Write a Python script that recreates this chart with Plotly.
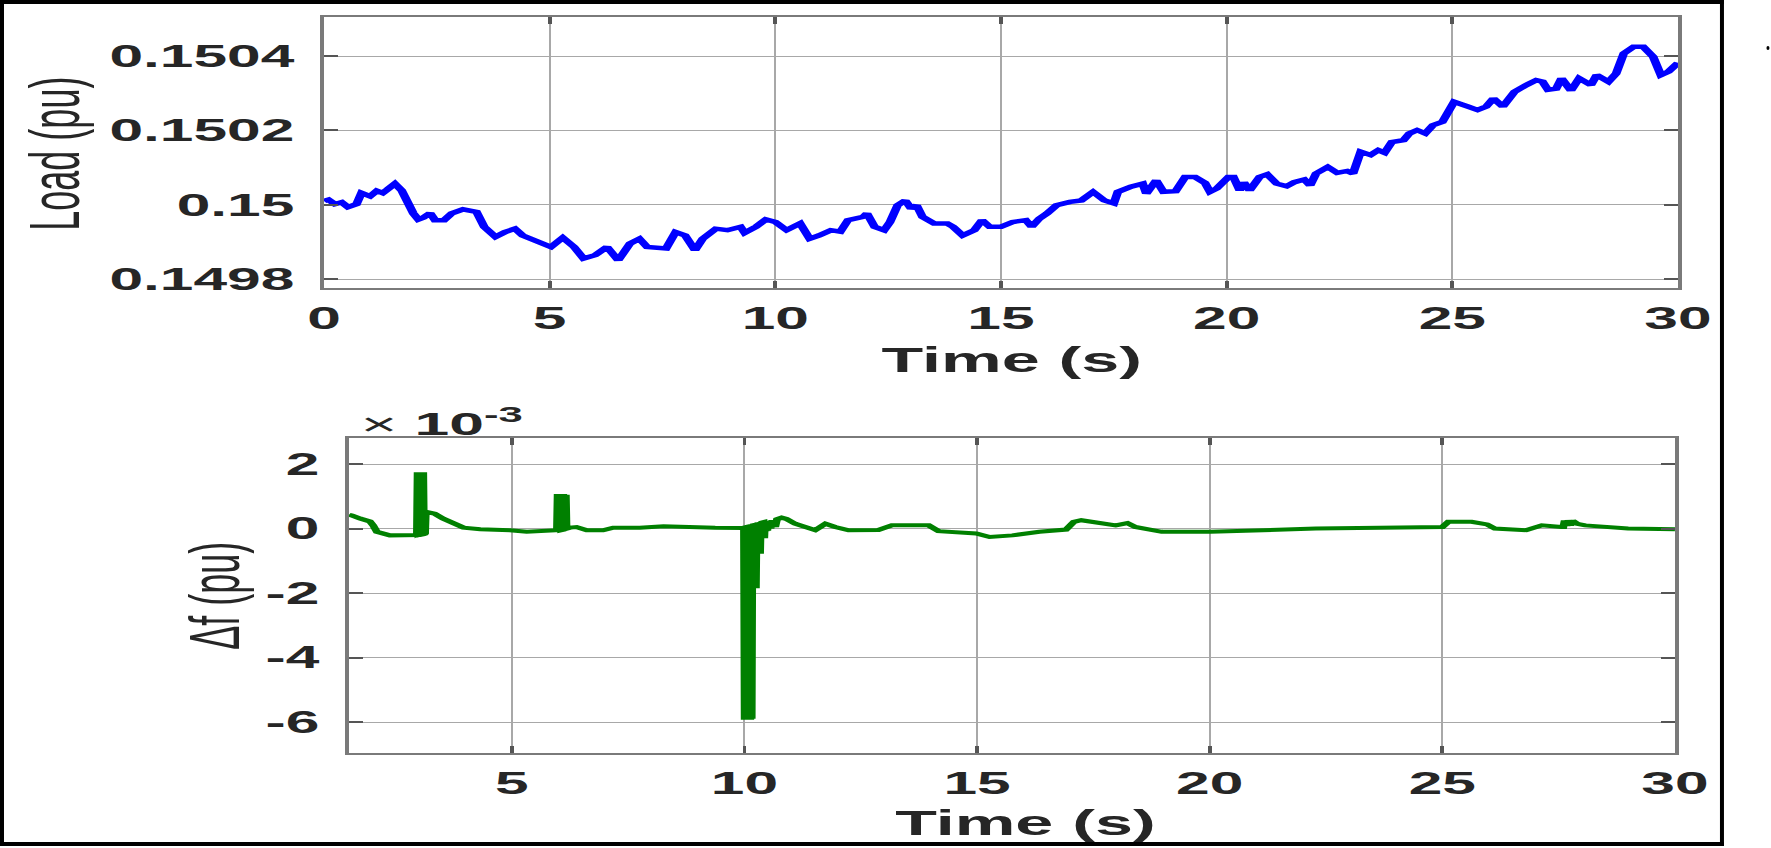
import plotly.graph_objects as go

# ---- upper panel: load (pu) against time (s) ----
load_time = [0.00, 0.10, 0.24, 0.39, 0.53, 0.72, 0.83, 1.02, 1.17, 1.30, 1.39, 1.57, 1.72, 1.83,
             1.98, 2.09, 2.20, 2.35, 2.46, 2.66, 2.83, 3.08, 3.38, 3.55, 3.80, 4.01, 4.23, 4.40,
             4.69, 5.03, 5.29, 5.54, 5.75, 6.01, 6.27, 6.52, 6.78, 6.99, 7.16, 7.58, 7.79, 8.00,
             8.22, 8.39, 8.68, 8.94, 9.23, 9.32, 9.57, 9.79, 10.00, 10.25, 10.55, 10.76, 10.97,
             11.23, 11.44, 11.61, 11.95, 12.03, 12.20, 12.41, 12.54, 12.71, 12.88, 13.01, 13.13,
             13.26, 13.52, 13.81, 13.94, 14.15, 14.41, 14.58, 14.75, 15.00, 15.26, 15.55, 15.68,
             15.85, 16.02, 16.23, 16.53, 16.78, 17.04, 17.29, 17.50, 17.59, 17.88, 18.14, 18.22,
             18.44, 18.60, 18.87, 19.08, 19.30, 19.52, 19.63, 19.78, 20.04, 20.15, 20.29, 20.38,
             20.51, 20.73, 20.90, 21.11, 21.33, 21.50, 21.72, 21.85, 21.98, 22.24, 22.45, 22.67,
             22.80, 22.97, 23.19, 23.36, 23.50, 23.66, 23.92, 24.05, 24.22, 24.40, 24.57, 24.78,
             25.04, 25.35, 25.56, 25.75, 25.91, 26.12, 26.38, 26.64, 26.86, 27.00, 27.12, 27.30,
             27.42, 27.63, 27.81, 28.07, 28.20, 28.46, 28.63, 28.80, 29.02, 29.23, 29.45, 29.62,
             29.79, 30.00]
load_pu = [0.150010, 0.150014, 0.150002, 0.150007, 0.149994, 0.150002, 0.150032, 0.150023,
           0.150038, 0.150032, 0.150040, 0.150057, 0.150039, 0.150012, 0.149977, 0.149961,
           0.149966, 0.149978, 0.149959, 0.149959, 0.149977, 0.149988, 0.149981, 0.149941,
           0.149914, 0.149927, 0.149936, 0.149918, 0.149905, 0.149887, 0.149912, 0.149887,
           0.149856, 0.149865, 0.149887, 0.149851, 0.149896, 0.149909, 0.149887, 0.149883,
           0.149927, 0.149918, 0.149878, 0.149909, 0.149936, 0.149932, 0.149941, 0.149925,
           0.149941, 0.149961, 0.149954, 0.149932, 0.149950, 0.149909, 0.149918, 0.149932,
           0.149928, 0.149959, 0.149968, 0.149977, 0.149941, 0.149932, 0.149954, 0.149999,
           0.150012, 0.149990, 0.149999, 0.149968, 0.149950, 0.149950, 0.149941, 0.149918,
           0.149932, 0.149959, 0.149941, 0.149941, 0.149954, 0.149959, 0.149941, 0.149963,
           0.149977, 0.149999, 0.150008, 0.150012, 0.150035, 0.150012, 0.150004, 0.150035,
           0.150049, 0.150057, 0.150030, 0.150066, 0.150035, 0.150037, 0.150075, 0.150075,
           0.150059, 0.150035, 0.150044, 0.150075, 0.150075, 0.150039, 0.150061, 0.150039,
           0.150075, 0.150082, 0.150057, 0.150050, 0.150061, 0.150068, 0.150052, 0.150084,
           0.150102, 0.150086, 0.150091, 0.150084, 0.150143, 0.150134, 0.150147, 0.150140,
           0.150169, 0.150174, 0.150192, 0.150201, 0.150192, 0.150214, 0.150223, 0.150277,
           0.150264, 0.150255, 0.150264, 0.150286, 0.150264, 0.150304, 0.150322, 0.150335,
           0.150331, 0.150309, 0.150312, 0.150340, 0.150307, 0.150340, 0.150322, 0.150349,
           0.150331, 0.150353, 0.150407, 0.150425, 0.150425, 0.150398, 0.150349, 0.150358,
           0.150382]

# ---- lower panel: frequency deviation, in units of 1e-3 pu ----
df_time = [1.50, 1.56, 1.74, 1.95, 2.02, 2.10, 2.38, 2.85,
           2.96, 2.975, 2.99, 3.005, 3.02, 3.035, 3.05, 3.065, 3.08, 3.095, 3.11, 3.125, 3.135,
           3.15, 3.34, 3.52, 3.74, 3.96, 4.32, 4.96, 5.32, 5.89,
           5.97, 5.985, 6.00, 6.015, 6.03, 6.045, 6.06, 6.075, 6.09, 6.105, 6.12, 6.135, 6.15,
           6.16, 6.175, 6.25, 6.39, 6.61, 6.96, 7.18, 7.75, 8.26, 8.66, 9.05, 9.37,
           9.96, 9.975, 9.99, 10.005, 10.02, 10.035, 10.05, 10.065, 10.08, 10.095, 10.11, 10.125,
           10.14, 10.155, 10.17, 10.185, 10.20, 10.215, 10.23, 10.245, 10.26, 10.275, 10.29,
           10.305, 10.32, 10.335, 10.35, 10.365, 10.38, 10.395, 10.41, 10.425, 10.44, 10.455,
           10.47, 10.49, 10.52, 10.56, 10.60, 10.66, 10.70, 10.80, 10.90,
           11.09, 11.52, 11.74, 11.95, 12.24, 12.88, 13.17, 13.96, 14.17, 14.98, 15.27, 15.76,
           16.34, 16.91, 17.08, 17.24, 17.98, 18.23, 18.40, 18.97, 20.02, 22.28, 25.00, 25.13,
           25.63, 25.96, 26.13, 26.80, 27.14, 27.56, 27.60, 27.63, 27.67, 27.71, 27.75, 27.80,
           27.90, 28.07, 28.99, 30.00]
df_milli_pu = [0.43, 0.41, 0.31, 0.22, 0.10, -0.10, -0.21, -0.21,
               -0.20, 1.75, -0.20, 1.75, -0.19, 1.75, -0.19, 1.75, -0.18, 1.75, -0.18, 1.75, -0.15,
               0.52, 0.46, 0.31, 0.15, 0.03, -0.02, -0.05, -0.10, -0.05,
               -0.05, 1.07, -0.05, 1.07, -0.05, 1.07, -0.05, 1.07, -0.04, 1.07, -0.04, 1.07, -0.04,
               1.05, 0.00, 0.03, 0.05, -0.05, -0.05, 0.03, 0.03, 0.07, 0.05, 0.03, 0.03,
               0.02, -5.93, 0.03, -5.93, 0.04, -5.93, 0.05, -5.93, 0.06, -5.93, 0.07, -5.93,
               0.08, -5.90, 0.10, -1.85, 0.11, -1.85, 0.12, -1.85, 0.13, -0.78, 0.15,
               -0.78, 0.16, -0.78, 0.18, -0.30, 0.19, -0.30, 0.20, -0.30, 0.21, -0.08,
               0.22, -0.06, 0.24, 0.00, 0.26, 0.05, 0.29, 0.34, 0.30,
               0.15, -0.05, 0.15, 0.05, -0.05, -0.04, 0.10, 0.10, -0.08, -0.15, -0.26, -0.21,
               -0.10, -0.03, 0.21, 0.26, 0.10, 0.17, 0.05, -0.10, -0.10, 0.00, 0.05, 0.21,
               0.21, 0.13, 0.00, -0.05, 0.10, 0.05, 0.05, 0.25, 0.08, 0.26, 0.10, 0.24,
               0.15, 0.10, 0.00, -0.02]

load_ticks = [0.1498, 0.15, 0.1502, 0.1504]
load_ticktext = ["0.1498", "0.15", "0.1502", "0.1504"]
df_ticks = [-6, -4, -2, 0, 2]
df_ticktext = ["-6", "-4", "-2", "0", "2"]
time_ticks_top = [0, 5, 10, 15, 20, 25, 30]
time_ticks_bottom = [5, 10, 15, 20, 25, 30]

FONT = "Liberation Sans, Arial, sans-serif"
INK = "#262626"
W_FULL, H_FULL = 1771, 848
# the source picture was widened about 2x after export, so draw narrow and stretch
W_PLOT = 908
STRETCH = W_FULL / W_PLOT


def px(x):
    return x / W_FULL


def py(y):
    return 1 - y / H_FULL


def axis_style(**kw):
    style = dict(showline=True, linecolor="#7a7a7a", linewidth=2, mirror="allticks",
                 ticks="inside", ticklen=7, tickwidth=1.5, tickcolor="#555555",
                 showgrid=True, gridcolor="#a8a8a8", gridwidth=1.4, zeroline=False,
                 tickfont=dict(family=FONT, size=31, color=INK, weight="bold"))
    style.update(kw)
    return style


fig = go.Figure()
fig.add_trace(go.Scatter(x=load_time, y=load_pu, mode="lines",
                         line=dict(color="#0000ff", width=4.5), xaxis="x", yaxis="y"))
fig.add_trace(go.Scatter(x=df_time, y=df_milli_pu, mode="lines",
                         line=dict(color="#008000", width=4), xaxis="x2", yaxis="y2"))

fig.update_layout(
    width=W_PLOT, height=H_FULL,
    margin=dict(l=0, r=0, t=0, b=0, autoexpand=False),
    paper_bgcolor="white", plot_bgcolor="white",
    showlegend=False,
    xaxis=axis_style(domain=[px(324), px(1678)], range=[0, 30], tickvals=time_ticks_top,
                     anchor="y", ticklabelstandoff=2),
    yaxis=axis_style(domain=[py(288.3), py(17.3)], range=[0.1497758, 0.1505041],
                     tickvals=load_ticks, ticktext=load_ticktext, anchor="x",
                     ticklabelstandoff=7),
    xaxis2=axis_style(domain=[px(349), px(1675)], range=[1.5, 30], tickvals=time_ticks_bottom,
                      anchor="y2", ticklabelstandoff=2),
    yaxis2=axis_style(domain=[py(753), py(438)], range=[-6.96, 2.81], tickvals=df_ticks,
                      ticktext=df_ticktext, anchor="x2", ticklabelstandoff=7),
)

label_font = dict(family=FONT, size=36, color=INK)
bold_font = dict(family=FONT, size=35, color=INK)
annotations = [
    dict(text="Load (pu)", x=px(55), y=py(153.5), textangle=-90, font=label_font),
    dict(text="Δf (pu)", x=px(214), y=py(596), textangle=-90, font=label_font),
    dict(text="<b>Time (s)</b>", x=px(1012), y=py(359), font=bold_font),
    dict(text="<b>Time (s)</b>", x=px(1025), y=py(822), font=bold_font),
    dict(text="× <b>10<sup>-3</sup></b>", x=px(356), y=py(422), xanchor="left",
         font=dict(family=FONT, size=32, color=INK)),
]
for a in annotations:
    a.setdefault("xanchor", "center")
    fig.add_annotation(xref="paper", yref="paper", yanchor="middle", showarrow=False, **a)

# outer black frame (vertical sides thinner because they get stretched)
frame = dict(type="line", xref="paper", yref="paper", line=dict(color="black"))
fig.add_shape(**frame, x0=0, x1=px(1724), y0=py(2), y1=py(2), line_width=4)
fig.add_shape(**frame, x0=0, x1=px(1724), y0=py(844), y1=py(844), line_width=4)
fig.add_shape(**frame, x0=px(2), x1=px(2), y0=py(846), y1=1, line_width=4 / STRETCH)
fig.add_shape(**frame, x0=px(1722), x1=px(1722), y0=py(846), y1=1, line_width=4 / STRETCH)
fig.add_shape(type="circle", xref="paper", yref="paper", x0=px(1766.5), x1=px(1769.5),
              y0=py(50), y1=py(46), fillcolor="black", line_width=0)

post = ("document.body.style.margin='0';"
        "document.documentElement.style.overflow='hidden';"
        "var gd=document.getElementById('{plot_id}');"
        "gd.style.transformOrigin='0 0';"
        "gd.style.transform='scaleX(" + format(STRETCH, ".4f") + ")';")

fig.write_html("out.html", post_script=post, config={"displayModeBar": False})
